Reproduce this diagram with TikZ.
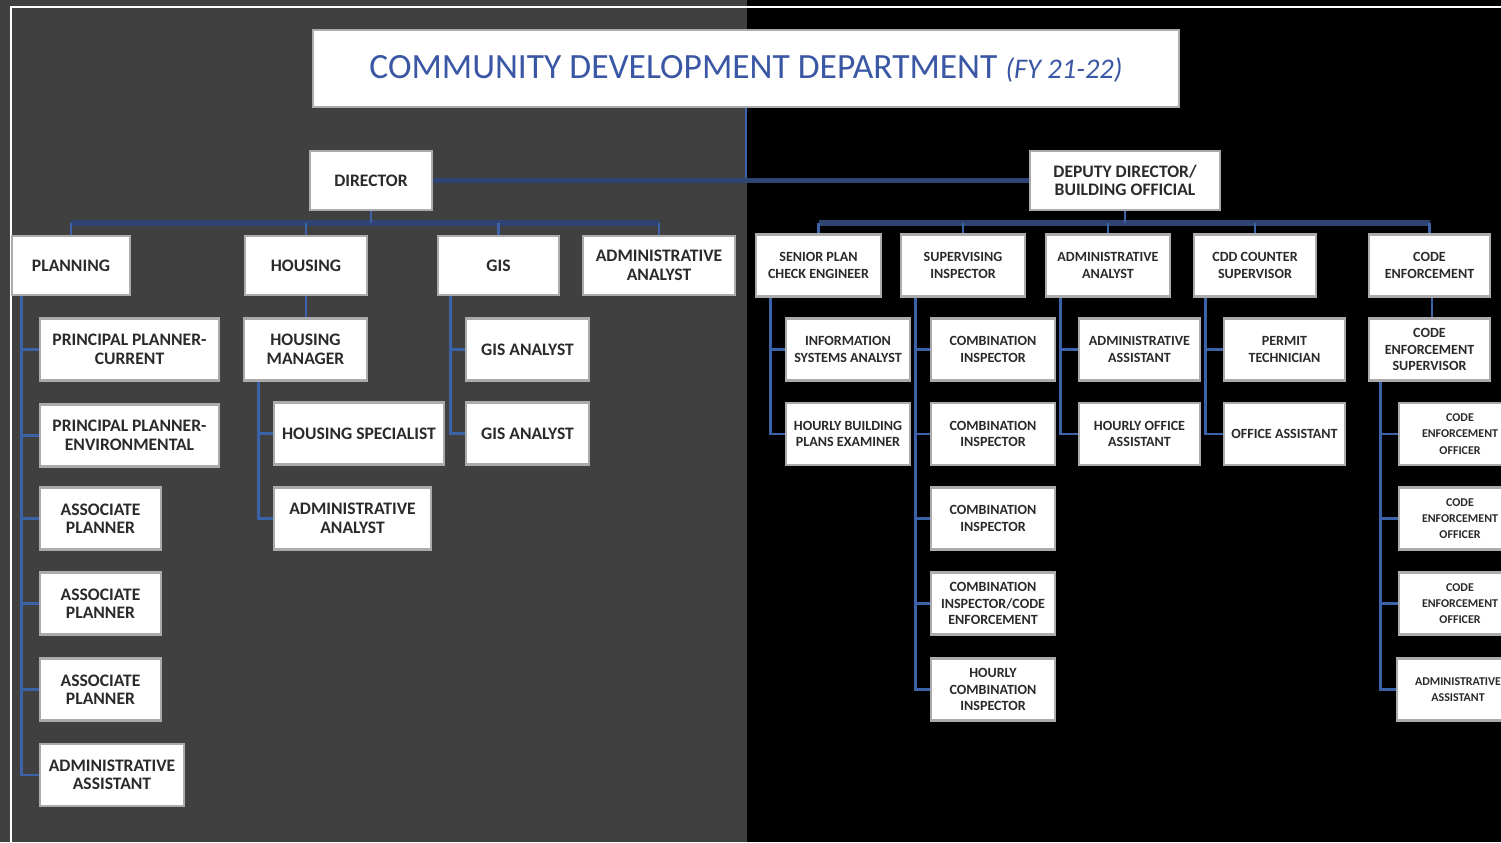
\documentclass[tikz,border=0pt]{standalone}
\usepackage{fontspec}
\setmainfont{Carlito}
\usepackage{xcolor}
\usepackage{tikz}
\definecolor{bggray}{HTML}{404040}
\definecolor{boxgray}{HTML}{ABABAB}
\definecolor{lnblue}{HTML}{3C62AA}
\definecolor{busblue}{HTML}{2F4472}
\definecolor{ttlblue}{HTML}{3A57A5}
\definecolor{txtdark}{HTML}{2A2A2A}
\tikzset{
  bx/.style={draw=boxgray,line width=1.6pt,fill=white,inner sep=1pt,align=center,text=txtdark,
    font=\bfseries\fontsize{10}{10.5}\selectfont,minimum height=1.24cm},
  hd/.style={minimum height=1.18cm},
  sm/.style={font=\bfseries\fontsize{8}{9.3}\selectfont},
  xs/.style={font=\bfseries\fontsize{6.8}{9.3}\selectfont},
  ln/.style={lnblue,line width=1.6pt},
  bus/.style={busblue,line width=3pt},
  frm/.style={white,line width=1.4pt}
}

\begin{document}
\begin{tikzpicture}[x=0.02cm,y=-0.02cm]
\useasboundingbox (0,0) rectangle (1501,842);
\fill[bggray] (0,0) rectangle (747,842);
\fill[black] (747,0) rectangle (1501,842);
\draw[frm] (11,842) -- (11,7) -- (1501,7);

\node[bx,minimum width=17.32cm,minimum height=1.54cm,text=ttlblue,font=\fontsize{20.2}{24}\selectfont] (title) at (746,68.5) {COMMUNITY DEVELOPMENT DEPARTMENT {\fontsize{16.2}{20}\selectfont\itshape(FY 21-22)}};
\node[bx,hd,minimum width=2.44cm] (dir) at (371,180.5) {DIRECTOR};
\node[bx,hd,minimum width=3.8cm] (dep) at (1125,180.5) {DEPUTY DIRECTOR/\\BUILDING OFFICIAL};

\node[bx,hd,minimum width=2.36cm] (plan) at (71,265.5) {PLANNING};
\node[bx,hd,minimum width=2.44cm] (hous) at (306,265.5) {HOUSING};
\node[bx,hd,minimum width=2.42cm] (gis) at (498.5,265.5) {GIS};
\node[bx,hd,minimum width=3.04cm] (aa) at (659,265.5) {ADMINISTRATIVE\\ANALYST};

\node[bx,sm,minimum width=2.5cm] (spce) at (818.5,265.5) {SENIOR PLAN\\CHECK ENGINEER};
\node[bx,sm,minimum width=2.48cm] (sup) at (963,265.5) {SUPERVISING\\INSPECTOR};
\node[bx,sm,minimum width=2.48cm] (aar) at (1108,265.5) {ADMINISTRATIVE\\ANALYST};
\node[bx,sm,minimum width=2.44cm] (cdd) at (1255,265.5) {CDD COUNTER\\SUPERVISOR};
\node[bx,sm,minimum width=2.42cm] (ce) at (1429.5,265.5) {CODE\\ENFORCEMENT};

\node[bx,minimum width=3.58cm] (pl1) at (129.5,349.5) {PRINCIPAL PLANNER-\\CURRENT};
\node[bx,minimum width=3.58cm] (pl2) at (129.5,435.5) {PRINCIPAL PLANNER-\\ENVIRONMENTAL};
\node[bx,minimum width=2.42cm] (pl3) at (100.5,518.5) {ASSOCIATE\\PLANNER};
\node[bx,minimum width=2.42cm] (pl4) at (100.5,603.5) {ASSOCIATE\\PLANNER};
\node[bx,minimum width=2.42cm] (pl5) at (100.5,689.5) {ASSOCIATE\\PLANNER};
\node[bx,minimum width=2.88cm] (pl6) at (112,775) {ADMINISTRATIVE\\ASSISTANT};

\node[bx,minimum width=2.46cm] (hm) at (305.5,349.5) {HOUSING\\MANAGER};
\node[bx,minimum width=3.4cm] (hs) at (359,433.5) {HOUSING SPECIALIST};
\node[bx,minimum width=3.14cm] (ha) at (352.5,518.5) {ADMINISTRATIVE\\ANALYST};
\node[bx,minimum width=2.46cm] (ga1) at (527.5,349.5) {GIS ANALYST};
\node[bx,minimum width=2.46cm] (ga2) at (527.5,433.5) {GIS ANALYST};

\node[bx,sm,minimum width=2.48cm] (is1) at (848,349.5) {INFORMATION\\SYSTEMS ANALYST};
\node[bx,sm,minimum width=2.48cm] (is2) at (848,434) {HOURLY BUILDING\\PLANS EXAMINER};
\node[bx,sm,minimum width=2.48cm] (ci1) at (993,349.5) {COMBINATION\\INSPECTOR};
\node[bx,sm,minimum width=2.48cm] (ci2) at (993,434) {COMBINATION\\INSPECTOR};
\node[bx,sm,minimum width=2.48cm] (ci3) at (993,518.5) {COMBINATION\\INSPECTOR};
\node[bx,sm,minimum width=2.48cm] (ci4) at (993,603.5) {COMBINATION\\INSPECTOR/CODE\\ENFORCEMENT};
\node[bx,sm,minimum width=2.48cm] (ci5) at (993,689.5) {HOURLY\\COMBINATION\\INSPECTOR};
\node[bx,sm,minimum width=2.42cm] (ar1) at (1139.5,349.5) {ADMINISTRATIVE\\ASSISTANT};
\node[bx,sm,minimum width=2.42cm] (ar2) at (1139.5,434) {HOURLY OFFICE\\ASSISTANT};
\node[bx,sm,minimum width=2.42cm] (cd1) at (1284.5,349.5) {PERMIT\\TECHNICIAN};
\node[bx,sm,minimum width=2.42cm] (cd2) at (1284.5,434) {OFFICE ASSISTANT};
\node[bx,sm,minimum width=2.42cm] (ces) at (1429.5,349.5) {CODE\\ENFORCEMENT\\SUPERVISOR};
\node[bx,xs,minimum width=2.44cm] (ceo1) at (1460,434) {CODE\\ENFORCEMENT\\OFFICER};
\node[bx,xs,minimum width=2.44cm] (ceo2) at (1460,518.5) {CODE\\ENFORCEMENT\\OFFICER};
\node[bx,xs,minimum width=2.44cm] (ceo3) at (1460,603.5) {CODE\\ENFORCEMENT\\OFFICER};
\node[bx,xs,minimum width=2.44cm] (cea) at (1458,689.5) {ADMINISTRATIVE\\ASSISTANT};

\draw[ln] (title.south) -- (title.south |- dir.east);
\draw[bus] (dir) -- (dep);
\coordinate (lb) at (0,223);
\draw[bus] (plan.north |- lb) -- (aa.north |- lb);
\draw[ln] (dir.south) -- (dir.south |- lb);
\foreach \n in {plan,hous,gis,aa} \draw[ln] (\n.north |- lb) -- (\n.north);
\draw[bus] (spce.north |- lb) -- (ce.north |- lb);
\draw[ln] (dep.south) -- (dep.south |- lb);
\foreach \n in {spce,sup,aar,cdd,ce} \draw[ln] (\n.north |- lb) -- (\n.north);

\coordinate (ps) at ([xshift=0.22cm]plan.south west);
\foreach \n in {pl1,pl2,pl3,pl4,pl5,pl6} \draw[ln] (ps) |- (\n.west);
\draw[ln] (hous.south) -- (hous.south |- hm.north);
\coordinate (hsp) at ([xshift=0.32cm]hm.south west);
\foreach \n in {hs,ha} \draw[ln] (hsp) |- (\n.west);
\coordinate (gsp) at ([xshift=0.28cm]gis.south west);
\foreach \n in {ga1,ga2} \draw[ln] (gsp) |- (\n.west);

\coordinate (ssp) at ([xshift=0.32cm]spce.south west);
\foreach \n in {is1,is2} \draw[ln] (ssp) |- (\n.west);
\coordinate (isp) at ([xshift=0.32cm]sup.south west);
\foreach \n in {ci1,ci2,ci3,ci4,ci5} \draw[ln] (isp) |- (\n.west);
\coordinate (asp) at ([xshift=0.32cm]aar.south west);
\foreach \n in {ar1,ar2} \draw[ln] (asp) |- (\n.west);
\coordinate (csp) at ([xshift=0.26cm]cdd.south west);
\foreach \n in {cd1,cd2} \draw[ln] (csp) |- (\n.west);
\draw[ln] ([xshift=0.05cm]ce.south) -- ([xshift=0.05cm]ce.south |- ces.north);
\coordinate (esp) at ([xshift=0.26cm]ces.south west);
\foreach \n in {ceo1,ceo2,ceo3,cea} \draw[ln] (esp) |- (\n.west);
\end{tikzpicture}
\end{document}
